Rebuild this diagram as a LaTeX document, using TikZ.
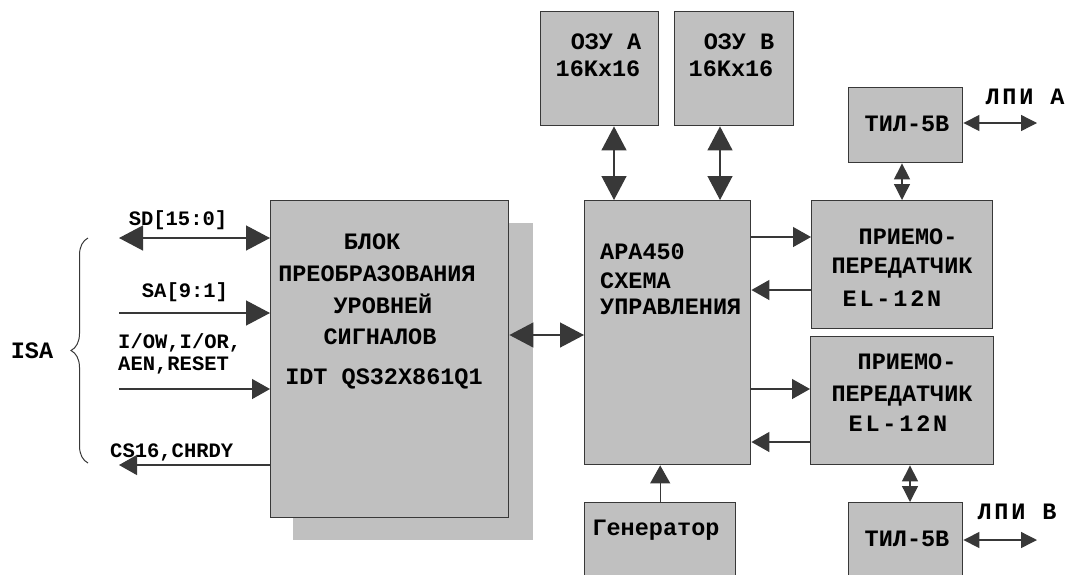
\documentclass[tikz,border=0pt]{standalone}
\usepackage{fontspec}
\setmonofont{Liberation Mono}
\usepackage{tikz}
\usetikzlibrary{arrows.meta}
\usetikzlibrary{decorations.pathreplacing}
\usetikzlibrary{positioning}
\definecolor{boxgray}{HTML}{C0C0C0}
\definecolor{edgegray}{HTML}{383838}

\begin{document}
\begin{tikzpicture}[
		x=1pt, y=-1pt,
		Blk/.style = {rectangle, draw=edgegray, fill=boxgray, line width=1.4pt,
			anchor=north west, inner sep=0pt},% boxes, placed by top-left corner
		T/.style = {inner sep=0pt, text height=13pt, text depth=0pt,
			font=\ttfamily\bfseries\fontsize{23.5}{28}\selectfont},
		S/.style = {inner sep=0pt, text height=11.5pt, text depth=0pt,
			font=\ttfamily\bfseries\fontsize{20.5}{25}\selectfont},
		W/.style = {T, font=\ttfamily\bfseries\fontsize{23.5}{28}\selectfont\addfontfeature{LetterSpace=12}},
		wire/.style = {draw=edgegray, line width=1.3pt},
		big/.style = {wire, >={Triangle[length=24pt,width=25pt]}},
		mid/.style = {wire, >={Triangle[length=18pt,width=20pt]}},
		small/.style = {wire, >={Triangle[length=16pt,width=16pt]}},
		]
		\useasboundingbox (0,0) rectangle (1067,574);
		\clip (0,0) rectangle (1067,574);
		% shadow of the level converter
		\fill[boxgray] (293,223) rectangle (533,540);
		% blocks
		\node[Blk, minimum width=238pt, minimum height=317pt] (conv) at (270,200) {};
		\node[Blk, minimum width=166pt, minimum height=264pt] (apa) at (584,200) {};
		\node[Blk, minimum width=118pt, minimum height=114pt] (ozuA) at (540,11) {};
		\node[Blk, minimum width=119pt, minimum height=114pt] (ozuB) at (674,11) {};
		\node[Blk, minimum width=114pt, minimum height=75pt] (tilA) at (848,87) {};
		\node[Blk, minimum width=181pt, minimum height=128pt] (trxA) at (811,200) {};
		\node[Blk, minimum width=183pt, minimum height=128pt] (trxB) at (810,336) {};
		\node[Blk, minimum width=151pt, minimum height=100pt] (gen) at (584,502) {};
		\node[Blk, minimum width=114pt, minimum height=100pt] (tilB) at (848,502) {};
		% texts in the blocks
		\node[T] at (372,243) {БЛОК};
		\node[T] at (377,275) {ПРЕОБРАЗОВАНИЯ};
		\node[T] at (383,307) {УРОВНЕЙ};
		\node[T] at (380,338) {СИГНАЛОВ};
		\node[T] at (384,378) {IDT QS32X861Q1};
		\node[T, anchor=west] at (600,253) {APA450};
		\node[T, anchor=west] at (600,282) {СХЕМА};
		\node[T, anchor=west] at (600,308) {УПРАВЛЕНИЯ};
		\node[T] at (606,43) {ОЗУ А};
		\node[T] at (598,70) {16Kx16};
		\node[T] at (739,43) {ОЗУ В};
		\node[T] at (731,70) {16Kx16};
		\node[T] at (907,125) {ТИЛ-5В};
		\node[T] at (908,238) {ПРИЕМО-};
		\node[T] at (902,267) {ПЕРЕДАТЧИК};
		\node[W] at (892,300) {EL-12N};
		\node[T] at (907,363) {ПРИЕМО-};
		\node[T] at (902,395) {ПЕРЕДАТЧИК};
		\node[W] at (898,425) {EL-12N};
		\node[T] at (656,529) {Генератор};
		\node[T] at (907,540) {ТИЛ-5В};
		\node[W] (lpiA) at (1025,98) {ЛПИ А};
		\node[W] (lpiB) at (1017,513) {ЛПИ В};
		% ISA side
		\node[T] (isa) at (32,352) {ISA};
		\draw[wire, line width=1pt, decorate, decoration={brace, amplitude=17pt}]
			(88,463) -- (88,238);
		\node[S] at (178,220) {SD[15:0]};
		\node[S] at (185,292) {SA[9:1]};
		\node[S, anchor=west] at (118,343) {I/OW,I/OR,};
		\node[S, anchor=west] at (118,365) {AEN,RESET};
		\node[S, anchor=west] at (110,452) {CS16,CHRDY};
		\coordinate (sd) at (119,238);
		\coordinate (sa) at (119,313);
		\coordinate (iow) at (119,389);
		\coordinate (cs) at (119,465);
		\draw[big,<->] (sd) -- (sd -| conv.west);
		\draw[big,->] (sa) -- (sa -| conv.west);
		\draw[mid,->] (iow) -- (iow -| conv.west);
		\draw[mid,->] (cs -| conv.west) -- (cs);
		% converter <-> control
		\coordinate (bus) at (546,335);
		\draw[big,<->] (bus -| conv.east) -- (bus -| apa.west);
		% memories
		\coordinate (ma) at (614,150);
		\coordinate (mb) at (720,150);
		\draw[big,<->] (ma |- ozuA.south) -- (ma |- apa.north);
		\draw[big,<->] (mb |- ozuB.south) -- (mb |- apa.north);
		% transceivers
		\coordinate (a1) at (780,237);
		\coordinate (a2) at (780,290);
		\coordinate (b1) at (780,389);
		\coordinate (b2) at (780,442);
		\draw[mid,->] (a1 -| apa.east) -- (a1 -| trxA.west);
		\draw[mid,->] (a2 -| trxA.west) -- (a2 -| apa.east);
		\draw[mid,->] (b1 -| apa.east) -- (b1 -| trxB.west);
		\draw[mid,->] (b2 -| trxB.west) -- (b2 -| apa.east);
		% line interfaces
		\coordinate (la) at (902,180);
		\coordinate (lb) at (910,480);
		\draw[small,<->] (la |- tilA.south) -- (la |- trxA.north);
		\draw[small,<->] (lb |- trxB.south) -- (lb |- tilB.north);
		\coordinate (ea) at (1037,123);
		\coordinate (eb) at (1037,540);
		\draw[small,<->] (ea -| tilA.east) -- (ea);
		\draw[small,<->] (eb -| tilB.east) -- (eb);
		% clock
		\draw[mid,->] (gen.north) -- (gen.north |- apa.south);
	\end{tikzpicture}
\end{document}
